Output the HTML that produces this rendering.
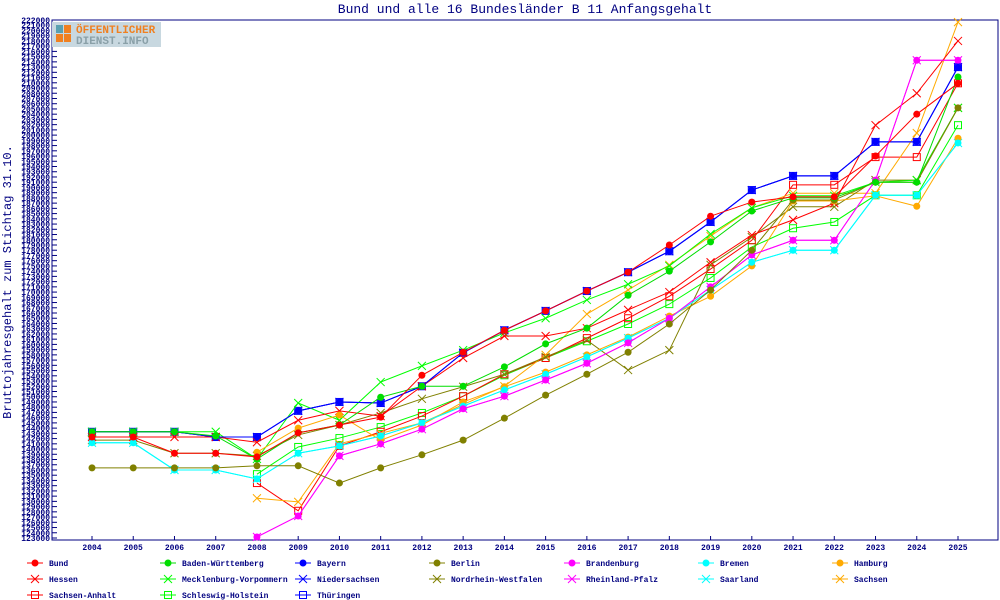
<!DOCTYPE html>
<html><head><meta charset="utf-8">
<style>
html,body{margin:0;padding:0;background:#fff;width:1000px;height:600px;overflow:hidden}
svg text{font-family:"Liberation Mono","DejaVu Sans Mono",monospace}
</style></head>
<body>
<svg id="chart" width="1000" height="600" viewBox="0 0 1000 600" xmlns="http://www.w3.org/2000/svg">
<text x="525" y="13" text-anchor="middle" font-size="13" fill="#000080">Bund und alle 16 Bundesländer B 11 Anfangsgehalt</text>
<text transform="translate(11,282) rotate(-90)" text-anchor="middle" font-size="12" fill="#000080">Bruttojahresgehalt zum Stichtag 31.10.</text>
<g id="axes"></g>
<g id="series"></g>
<g id="legend"></g>
<g>
<rect x="52" y="22" width="109" height="25" fill="#c8d8e0"/>
<rect x="56" y="25" width="7" height="8" fill="#5aa0b0"/><rect x="64" y="25" width="7" height="8" fill="#f08020"/>
<rect x="56" y="34" width="7" height="8" fill="#f08020"/><rect x="64" y="34" width="7" height="8" fill="#f08020"/>
<text x="76" y="33" font-size="11" font-weight="bold" fill="#f08020">ÖFFENTLICHER</text>
<text x="76" y="44" font-size="11" font-weight="bold" fill="#8aa0a8">DIENST.INFO</text>
</g>
</svg>
<script>
const years=[2004,2005,2006,2007,2008,2009,2010,2011,2012,2013,2014,2015,2016,2017,2018,2019,2020,2021,2022,2023,2024,2025];
const yMin=123000, yMax=222000, yStep=1000;
const seriesNames=["Bund","Baden-Württemberg","Bayern","Berlin","Brandenburg","Bremen","Hamburg","Hessen","Mecklenburg-Vorpommern","Niedersachsen","Nordrhein-Westfalen","Rheinland-Pfalz","Saarland","Sachsen","Sachsen-Anhalt","Schleswig-Holstein","Thüringen"];
const seriesColors=["#ff0000","#00dd00","#0000ff","#808000","#ff00ff","#00ffff","#ffaa00","#ff0000","#00ff00","#0000ff","#808000","#ff00ff","#00ffff","#ffaa00","#ff0000","#00ff00","#0000ff"];
const seriesMarkers=["dot","dot","dot","dot","dot","dot","dot","x","x","x","x","x","x","x","sq","sq","sq"];
const vBund=[142.3,142.3,139.2,139.2,138.5,143.1,144.6,146.1,154.1,158.5,162.7,166.4,170.2,173.8,179.0,184.5,187.2,188.2,188.2,196.0,204.0,209.9];
const vBW=[143.3,143.3,143.3,142.5,138.1,143.1,144.6,149.9,152.0,152.0,155.7,160.1,163.1,169.4,174.0,179.6,185.5,188.0,188.0,191.0,191.0,211.1];
const vBY=[143.3,143.3,143.3,142.3,142.3,147.3,149.0,148.8,152.0,158.4,162.7,166.4,170.2,173.8,177.8,183.4,189.5,192.2,192.2,198.7,198.7,213.0];
const vBE=[136.4,136.4,136.4,136.4,136.8,136.8,133.5,136.4,138.9,141.7,145.9,150.3,154.3,158.5,163.9,170.4,178.0,187.6,187.6,191.0,191.0,205.2];
const vBB=[null,null,null,null,123.2,127.2,138.7,141.0,143.8,147.7,150.1,153.2,156.4,160.3,165.0,171.0,177.1,179.9,179.9,191.4,214.3,214.3];
const vHB=[141.2,141.2,136.0,136.0,134.3,139.2,140.6,142.5,145.0,148.2,151.3,154.3,157.6,161.2,165.0,170.4,175.7,178.0,178.0,188.5,188.5,198.5];
const vHH=[null,null,null,null,139.4,144.0,146.5,141.7,144.6,149.0,151.9,154.7,158.0,161.4,165.4,169.2,175.0,187.4,187.4,188.4,186.4,199.4];
const vHE=[142.3,142.3,142.3,142.3,141.3,145.5,147.3,146.3,152.0,157.4,161.6,161.6,163.1,166.6,170.0,175.7,180.9,183.8,187.0,201.9,208.0,218.0];
const vMV=[143.3,143.3,143.3,143.3,138.1,148.8,145.5,152.8,155.9,158.9,162.2,165.0,168.5,171.5,175.0,181.1,186.1,188.4,188.4,191.0,191.4,205.2];
const vNI=[143.3,143.3,143.3,142.3,142.3,147.3,149.0,148.8,152.0,158.4,162.7,166.4,170.2,173.8,177.8,183.4,189.5,192.2,192.2,198.7,198.7,213.0];
const vNW=[141.7,141.7,139.2,139.2,138.7,142.7,144.6,146.9,149.6,151.9,154.3,157.6,160.8,155.1,158.9,175.2,180.5,186.3,186.3,191.4,191.4,205.2];
const vRP=[null,null,null,null,123.2,127.2,138.7,141.0,143.8,147.7,150.1,153.2,156.4,160.3,165.0,171.0,177.1,179.9,179.9,191.4,214.3,214.3];
const vSL=[141.2,141.2,136.0,136.0,134.3,139.2,140.6,142.5,145.0,148.2,151.3,154.3,157.6,161.2,165.0,170.4,175.7,178.0,178.0,188.5,188.5,198.5];
const vSN=[null,null,null,null,130.6,129.9,141.0,143.0,145.0,148.5,152.0,158.0,165.8,170.4,175.2,180.7,186.1,188.9,188.9,188.9,200.4,221.6];
const vST=[null,null,null,null,133.5,128.2,140.6,143.3,146.3,150.1,154.3,157.4,161.2,165.0,169.2,174.4,179.9,190.5,190.5,195.8,195.8,209.9];
const vSH=[null,null,null,null,135.2,140.4,142.1,144.2,146.9,150.1,154.1,157.4,160.6,163.9,167.7,172.7,178.6,182.2,183.4,188.5,188.5,201.9];
const vTH=[143.3,143.3,143.3,142.3,142.3,147.3,149.0,148.8,152.0,158.4,162.7,166.4,170.2,173.8,177.8,183.4,189.5,192.2,192.2,198.7,198.7,213.0];
const seriesValues=[vBund,vBW,vBY,vBE,vBB,vHB,vHH,vHE,vMV,vNI,vNW,vRP,vSL,vSN,vST,vSH,vTH];

const NS="http://www.w3.org/2000/svg";
const L=52,R=998,T=20,B=540,yTop=20,yBot=538,x0=92,x1=958;
function xs(i){return x0+(x1-x0)*i/(years.length-1);}
function ys(v){return yBot-(v-yMin)*(yBot-yTop)/(yMax-yMin);}
function mk(tag,attrs,parent){const e=document.createElementNS(NS,tag);for(const k in attrs)e.setAttribute(k,attrs[k]);parent.appendChild(e);return e;}
const axes=document.getElementById('axes');
const frame=mk('rect',{x:L,y:T,width:R-L,height:B-T,fill:'none',stroke:'#000080','stroke-width':1},axes);


for(let v=yMin;v<=yMax;v+=yStep){
  const y=ys(v);
  const tk=mk('line',{x1:L,x2:L+5,y1:y,y2:y,stroke:'#000080'},axes);
  
  
  const t=mk('text',{x:L-2,y:y+3,'text-anchor':'end','font-size':8,'font-weight':'bold',fill:'#000080'},axes);
  t.textContent=v;
  
  
}
years.forEach((yr,i)=>{
  const x=xs(i);
  const tk=mk('line',{x1:x,x2:x,y1:B,y2:B-4,stroke:'#000080'},axes);
  
  
  const t=mk('text',{x:x,y:550,'text-anchor':'middle','font-size':8,'font-weight':'bold',fill:'#000080'},axes);
  t.textContent=yr;
  
  
});
function marker(type,x,y,c,parent){
  let m;
  if(type==='dot'){m=mk('circle',{cx:x,cy:y,r:3.5,fill:c},parent);}
  else if(type==='sq'){m=mk('rect',{x:x-3.5,y:y-3.5,width:7,height:7,fill:'none',stroke:c},parent);}
  else{m=mk('path',{d:`M${x-4},${y-4}L${x+4},${y+4}M${x-4},${y+4}L${x+4},${y-4}`,stroke:c,fill:'none'},parent);}
  return m;
}
const sg=document.getElementById('series');
for(let s=seriesValues.length-1;s>=0;s--){
  const vals=seriesValues[s];
  const g=mk('g',{},sg);
  
  
  let d='';
  vals.forEach((v,i)=>{if(v==null)return;d+=(d?'L':'M')+xs(i)+','+ys(v*1000);});
  const p=mk('path',{d:d,fill:'none',stroke:seriesColors[s],'stroke-width':1},g);
  
  
  vals.forEach((v,i)=>{if(v==null)return;
    const m=marker(seriesMarkers[s],xs(i),ys(v*1000),seriesColors[s],g);
    
    
  });
}
const lg=document.getElementById('legend');
const colX=[35,168,303,437,572,706,840];
seriesNames.forEach((n,s)=>{
  const col=s%7,row=Math.floor(s/7);
  const x=colX[col],y=563+row*16;
  const g=mk('g',{},lg);
  
  
  mk('line',{x1:x-8,x2:x+8,y1:y,y2:y,stroke:seriesColors[s]},g);
  marker(seriesMarkers[s],x,y,seriesColors[s],g);
  const t=mk('text',{x:x+14,y:y+3,'font-size':8,'font-weight':'bold',fill:'#000080'},g);
  t.textContent=n;
});
</script>
</body></html>
